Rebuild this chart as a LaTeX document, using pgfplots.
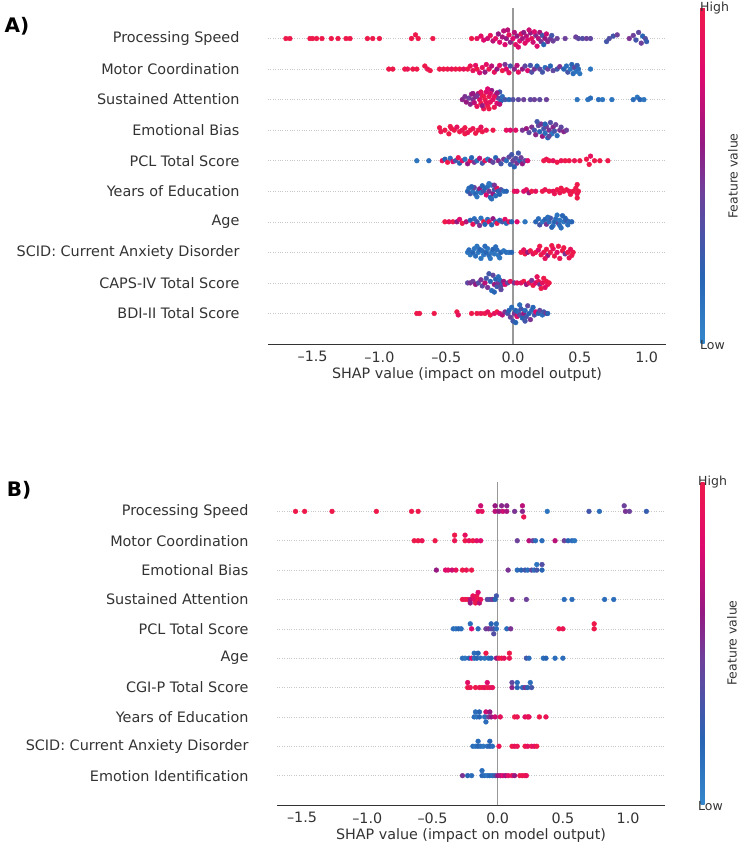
\documentclass[border=0pt]{standalone}
\usepackage{fontspec}
\setmainfont{DejaVu Sans}
\usepackage{pgfplots}
\pgfplotsset{compat=1.18}
\definecolor{lab}{RGB}{51,51,51}
\definecolor{zline}{RGB}{153,153,153}
\definecolor{gridc}{RGB}{200,200,200}
\pgfplotsset{
  shapaxis/.style={
    scale only axis, anchor=south west,
    ymin=-1, ymax=10,
    axis x line*=bottom, axis y line*=left,
    y axis line style={draw=none},
    x axis line style={draw=lab, line width=0.8pt},
    major tick length=0pt,
    xtick={-1.5,-1,-0.5,0,0.5,1},
    xticklabels={–1.5,–1.0,–0.5,0.0,0.5,1.0},
    ytick={0,...,9},
    ymajorgrids,
    grid style={gridc, line width=0.6pt, dash pattern=on 0.8pt off 1.6pt},
    tick label style={text=lab},
    xticklabel style={font=\fontsize{14.3}{16}\selectfont, yshift=-4pt},
    yticklabel style={font=\fontsize{14.4}{16}\selectfont, xshift=-25pt},
    xlabel={SHAP value (impact on model output)},
    xlabel style={font=\fontsize{14.3}{16}\selectfont, text=lab, at={(axis description cs:0.5,0)}, anchor=center, yshift=-31pt},
    colormap={shap}{rgb255(0pt)=(52,135,205); rgb255(20pt)=(40,100,180); rgb255(45pt)=(110,65,155); rgb255(60pt)=(150,25,130); rgb255(80pt)=(222,10,110); rgb255(100pt)=(238,25,75)},
    point meta min=0, point meta max=1,
    colorbar,
  },
  beeswarm/.style={scatter, only marks, mark=*, mark size=2.4pt, scatter src=explicit,
    scatter/use mapped color={draw=mapped color, fill=mapped color}},
}
\begin{document}
\begin{tikzpicture}
\useasboundingbox (0,0) rectangle (743pt,846pt);
% ================= Panel A =================
\begin{axis}[shapaxis, at={(268pt,502pt)}, width=398pt, height=336pt,
  xmin=-1.834, xmax=1.145,
  yticklabels={BDI-II Total Score, CAPS-IV Total Score, SCID: Current Anxiety Disorder, Age, Years of Education, PCL Total Score, Emotional Bias, Sustained Attention, Motor Coordination, Processing Speed},
  colorbar style={at={(parent axis.north east)}, anchor=north west, xshift=26pt,
    scale only axis, width=4pt, height=336pt, xtick=\empty, ytick=\empty, axis line style={draw=none}}]
\addplot[zline, line width=1.3pt, forget plot] coordinates {(0,-1) (0,10)};
% Processing Speed
\addplot[beeswarm] table[row sep=\\, x=x, y expr=\thisrow{d}+9, meta=c] {
x d c\\
-1.70 0 1\\ -1.67 0 1\\ -1.52 0 1\\ -1.50 0 1\\ -1.47 0 1\\ -1.43 0 1\\ -1.36 0 1\\ -1.31 0 1\\ -1.25 0 1\\ -1.22 0 1\\
-1.09 0 1\\ -1.05 0 1\\ -1.00 0 1\\ -0.76 0 1\\ -0.73 0.12 1\\ -0.71 0 1\\ -0.60 0 1\\ -0.31 0 1\\
-0.27 0 0.9\\ -0.24 0.08 0.85\\ -0.22 -0.05 0.8\\ -0.19 0 0.75\\ -0.17 0.1 0.9\\ -0.15 -0.08 0.7\\ -0.13 0 0.85\\ -0.11 0.15 0.6\\
-0.10 -0.12 0.8\\ -0.08 0.05 0.65\\ -0.07 0.25 0.7\\ -0.06 -0.2 0.8\\ -0.05 0 0.6\\ -0.03 0.12 0.9\\ -0.02 -0.12 0.55\\ 0.00 0 0.8\\
0.01 0.2 0.7\\ 0.02 -0.2 0.85\\ 0.03 0.08 0.6\\ 0.05 -0.08 0.8\\ 0.06 0.15 0.9\\ 0.07 0 0.65\\ 0.09 -0.15 0.85\\ 0.10 0.08 0.7\\
0.11 -0.05 0.8\\ 0.13 0.18 0.6\\ 0.14 0 0.9\\ 0.15 -0.12 0.75\\ 0.17 0.1 0.55\\ 0.18 -0.25 0.8\\ 0.19 0 0.7\\ 0.20 0.2 0.65\\
0.21 -0.1 0.5\\ 0.22 0.1 0.3\\ 0.23 -0.2 0.2\\ 0.24 0 0.6\\ 0.25 0.15 0.75\\ 0.26 -0.1 0.55\\ 0.28 0 0.5\\ 0.29 0.1 0.3\\
0.30 -0.08 0.45\\ 0.33 0 0.45\\ 0.39 0 0.45\\ 0.47 0.05 0.45\\ 0.49 0 0.4\\ 0.52 0 0.35\\ 0.55 0 0.45\\ 0.58 0 0.4\\
0.70 -0.1 0.3\\ 0.72 0 0.35\\ 0.75 0.08 0.3\\ 0.78 0.12 0.45\\ 0.87 0 0.5\\ 0.90 0.1 0.45\\ 0.92 -0.05 0.3\\ 0.94 0.2 0.4\\
0.96 -0.15 0.45\\ 0.97 0.08 0.2\\ 0.99 0 0.35\\ 1.00 -0.1 0.25\\
-0.04 0.28 0.7\\ 0.04 -0.28 0.8\\ 0.12 0.28 0.75\\ 0.16 0.22 0.8\\ 0.08 0.2 0.6\\
};
% Motor Coordination
\addplot[beeswarm] table[row sep=\\, x=x, y expr=\thisrow{d}+8, meta=c] {
x d c\\
-0.93 0 1\\ -0.90 0 1\\ -0.81 0 1\\ -0.79 0 0.95\\ -0.75 0 1\\ -0.72 0 1\\ -0.66 0.1 1\\ -0.64 0 0.95\\ -0.62 -0.05 1\\
-0.55 0 1\\ -0.52 0 1\\ -0.49 0 1\\ -0.46 0 0.95\\ -0.43 0 1\\ -0.40 0 1\\ -0.37 0 0.9\\ -0.34 0 1\\ -0.32 0.1 0.95\\
-0.30 -0.05 0.9\\ -0.28 0.12 0.85\\ -0.27 0 1\\ -0.25 -0.12 0.8\\ -0.23 0.05 0.9\\ -0.21 -0.1 0.6\\ -0.20 0.15 0.85\\
-0.18 0 0.95\\ -0.16 0.1 0.7\\ -0.14 -0.1 0.9\\ -0.12 0 0.6\\ -0.10 0.12 0.85\\ -0.08 -0.05 1\\ -0.06 0.15 0.5\\ -0.05 0 0.8\\
-0.03 -0.12 0.9\\ -0.02 0.1 0.3\\ 0.01 0 0.55\\ 0.03 0.12 0.7\\ 0.04 -0.1 0.9\\ 0.07 0 0.6\\ 0.09 0.1 0.4\\ 0.11 -0.05 0.8\\
0.13 0.12 0.3\\ 0.14 -0.1 0.35\\ 0.16 0 0.5\\ 0.18 0.1 0.2\\ 0.20 0 0.4\\ 0.22 -0.1 0.3\\ 0.24 0.05 0.15\\ 0.26 0 0.45\\
0.28 0.1 0.2\\ 0.30 -0.05 0.4\\ 0.33 0 0.3\\ 0.35 0.08 0.5\\ 0.38 0 0.2\\ 0.40 0.1 0.15\\ 0.41 -0.1 0.3\\ 0.43 0 0.1\\
0.44 0.15 0.2\\ 0.45 -0.15 0.15\\ 0.46 0.05 0.4\\ 0.47 -0.08 0.1\\ 0.48 0.12 0.25\\ 0.49 0 0.15\\ 0.50 -0.15 0.1\\ 0.58 0 0.1\\
};
% Sustained Attention
\addplot[beeswarm] table[row sep=\\, x=x, y expr=\thisrow{d}+7, meta=c] {
x d c\\
-0.38 0 0.55\\ -0.36 0.1 0.5\\ -0.35 -0.08 0.6\\ -0.33 0.05 0.45\\ -0.32 -0.15 0.55\\ -0.31 0.18 0.6\\ -0.30 0 0.5\\
-0.29 -0.1 0.7\\ -0.28 0.1 0.55\\ -0.27 -0.22 0.9\\ -0.26 0.2 0.65\\ -0.25 0 0.85\\ -0.24 -0.12 1\\ -0.23 0.12 0.9\\
-0.22 -0.3 0.95\\ -0.21 0 1\\ -0.20 0.25 0.8\\ -0.19 -0.2 1\\ -0.18 0.1 0.95\\ -0.17 -0.08 0.9\\ -0.16 0.3 0.6\\
-0.15 0 0.85\\ -0.14 -0.25 0.95\\ -0.13 0.15 0.7\\ -0.12 -0.12 0.8\\ -0.11 0.05 0.4\\ -0.10 0.25 0.3\\ -0.09 -0.05 0.2\\
-0.08 0.1 0.15\\ -0.06 0 0.3\\ -0.03 0 0.2\\ 0.00 0 0.35\\ 0.04 0 0.4\\ 0.08 0 0.45\\ 0.13 0 0.4\\ 0.16 0 0.45\\
0.20 0 0.4\\ 0.25 0 0.45\\ 0.48 0 0.1\\ 0.56 0 0.1\\ 0.58 0.05 0.15\\ 0.64 0 0.15\\ 0.67 0 0.1\\ 0.74 0 0.1\\
0.90 0 0.15\\ 0.93 0.08 0.1\\ 0.95 0 0.2\\ 0.98 0 0.1\\
-0.30 0.2 0.6\\ -0.27 0.12 0.5\\ -0.24 0.25 0.9\\ -0.22 0.12 1\\ -0.20 -0.1 0.9\\ -0.18 -0.3 1\\ -0.17 0.2 0.85\\
-0.14 0.1 0.9\\ -0.12 0.22 0.6\\ -0.10 -0.15 0.7\\ -0.19 0.35 0.8\\ -0.23 -0.2 0.6\\
};
% Emotional Bias
\addplot[beeswarm] table[row sep=\\, x=x, y expr=\thisrow{d}+6, meta=c] {
x d c\\
-0.55 0.08 1\\ -0.54 -0.05 0.95\\ -0.51 0 1\\ -0.48 -0.12 1\\ -0.46 0.05 0.95\\ -0.44 0 1\\ -0.42 0.1 0.9\\ -0.40 -0.05 1\\
-0.38 0 0.95\\ -0.36 0.08 1\\ -0.34 -0.08 0.9\\ -0.32 0 1\\ -0.30 0.05 0.95\\ -0.28 -0.1 1\\ -0.26 0 1\\ -0.24 0.1 0.9\\
-0.23 -0.05 1\\ -0.20 0 0.95\\ -0.15 0 1\\ -0.05 0 0.9\\ -0.02 0 0.8\\ 0.02 0 0.85\\ 0.07 0 0.5\\ 0.10 0.05 0.6\\
0.12 -0.08 0.4\\ 0.14 0.1 0.5\\ 0.16 0 0.3\\ 0.17 -0.15 0.55\\ 0.19 0.15 0.4\\ 0.20 -0.05 0.2\\ 0.21 0.2 0.5\\ 0.22 -0.2 0.6\\
0.23 0.05 0.3\\ 0.24 -0.1 0.15\\ 0.25 0.12 0.45\\ 0.26 -0.25 0.2\\ 0.27 0 0.5\\ 0.28 0.25 0.35\\ 0.29 -0.12 0.1\\ 0.30 0.1 0.55\\
0.31 -0.03 0.3\\ 0.32 0.18 0.45\\ 0.33 -0.18 0.15\\ 0.35 0 0.5\\ 0.36 0.1 0.4\\ 0.38 -0.05 0.55\\ 0.40 0 0.45\\
0.18 0.28 0.3\\ 0.24 0.2 0.2\\ 0.27 -0.2 0.4\\ -0.47 0.12 1\\ -0.36 -0.12 1\\
};
% PCL Total Score
\addplot[beeswarm] table[row sep=\\, x=x, y expr=\thisrow{d}+5, meta=c] {
x d c\\
-0.72 0 0.1\\ -0.63 0 0.15\\ -0.53 0 0.9\\ -0.51 0.05 0.2\\ -0.49 -0.05 1\\ -0.47 0.08 0.15\\ -0.45 -0.03 0.8\\ -0.43 0 0.3\\
-0.41 0.1 0.95\\ -0.40 -0.08 0.2\\ -0.38 0 0.85\\ -0.36 0.05 0.1\\ -0.34 -0.1 0.6\\ -0.32 0 0.9\\ -0.31 0.1 0.2\\ -0.29 -0.05 0.5\\
-0.27 0 0.15\\ -0.25 0.08 0.7\\ -0.23 -0.08 0.3\\ -0.21 0 0.9\\ -0.19 0.05 0.1\\ -0.17 0 0.6\\ -0.15 -0.05 0.4\\ -0.13 0.1 0.2\\
-0.11 0 0.55\\ -0.09 -0.1 0.3\\ -0.07 0.05 0.5\\ -0.05 0 0.15\\ -0.03 0.12 0.4\\ -0.02 -0.12 0.25\\ -0.01 0.2 0.3\\ 0.00 0 0.45\\
0.01 -0.2 0.2\\ 0.02 0.08 0.35\\ 0.03 -0.08 0.5\\ 0.04 0.25 0.3\\ 0.05 0 0.2\\ 0.06 0.1 0.45\\ 0.07 -0.1 0.6\\ 0.09 0 0.4\\
0.11 0 0.8\\ 0.23 0 1\\ 0.25 0.05 0.95\\ 0.27 0 1\\ 0.30 0 0.9\\ 0.33 -0.05 1\\ 0.36 0 0.95\\ 0.39 0 1\\ 0.42 0 1\\
0.46 0 0.95\\ 0.50 0 1\\ 0.55 0.05 1\\ 0.57 -0.12 1\\ 0.58 0.15 0.9\\ 0.61 0 1\\ 0.65 0 1\\ 0.71 0 1\\
};
% Years of Education
\addplot[beeswarm] table[row sep=\\, x=x, y expr=\thisrow{d}+4, meta=c] {
x d c\\
-0.34 0 0.2\\ -0.33 0.1 0.15\\ -0.32 -0.08 0.3\\ -0.30 0 0.1\\ -0.29 0.12 0.4\\ -0.28 -0.1 0.2\\ -0.26 0 0.15\\ -0.25 0.08 0.6\\
-0.24 -0.05 0.1\\ -0.22 0 0.3\\ -0.21 0.1 0.2\\ -0.20 -0.12 0.8\\ -0.19 0.15 0.15\\ -0.18 0 0.5\\ -0.17 -0.2 0.2\\ -0.16 0.2 0.1\\
-0.15 -0.08 0.6\\ -0.14 0.05 0.3\\ -0.13 -0.15 0.15\\ -0.12 0.1 0.9\\ -0.11 0 0.2\\ -0.09 0.05 0.35\\ -0.07 0 0.15\\ -0.05 0 0.2\\
0.01 0 0.9\\ 0.03 0 0.85\\ 0.08 0 0.8\\ 0.10 0.05 0.9\\ 0.12 -0.05 0.6\\ 0.14 0 1\\ 0.17 0 0.9\\ 0.22 0 1\\ 0.24 0.05 0.95\\
0.27 0 1\\ 0.30 0 0.9\\ 0.33 0.05 1\\ 0.35 -0.05 0.95\\ 0.38 0 1\\ 0.40 0.05 1\\ 0.42 0 0.95\\ 0.45 0 1\\ 0.47 0.1 1\\
0.48 -0.08 0.95\\ 0.48 0.22 1\\ 0.48 -0.22 1\\ 0.49 0 1\\
-0.31 0.15 0.2\\ -0.27 -0.18 0.1\\ -0.23 0.18 0.2\\ -0.18 0.25 0.1\\ -0.16 -0.25 0.15\\ -0.14 0.2 0.5\\ -0.10 -0.1 0.2\\
0.36 0.1 1\\ 0.43 -0.1 1\\ 0.31 -0.08 0.95\\
};
% Age
\addplot[beeswarm] table[row sep=\\, x=x, y expr=\thisrow{d}+3, meta=c] {
x d c\\
-0.51 0 1\\ -0.48 0 0.9\\ -0.45 0 1\\ -0.42 0 0.6\\ -0.40 0.08 0.8\\ -0.38 -0.05 1\\ -0.35 0 0.7\\ -0.32 0.05 0.2\\
-0.30 -0.08 0.9\\ -0.29 0.1 0.15\\ -0.27 0 0.3\\ -0.25 -0.12 0.5\\ -0.24 0.12 0.1\\ -0.22 0 1\\ -0.21 -0.08 0.2\\ -0.19 0.08 0.15\\
-0.18 0 0.9\\ -0.16 -0.1 0.2\\ -0.15 0.1 0.6\\ -0.13 0 0.15\\ -0.12 -0.05 0.95\\ -0.10 0.05 0.2\\ -0.08 0 0.3\\ -0.06 0.08 0.85\\
-0.05 -0.05 0.15\\ -0.03 0 0.9\\ -0.01 0 0.2\\ 0.03 0 0.8\\ 0.09 0 0.1\\ 0.17 0 0.2\\ 0.19 0.1 0.15\\ 0.20 -0.1 0.3\\
0.22 0 0.1\\ 0.24 0.08 0.2\\ 0.25 -0.08 0.5\\ 0.27 0 0.15\\ 0.28 0.12 0.3\\ 0.30 -0.12 0.1\\ 0.31 0 0.2\\ 0.32 0.1 0.15\\
0.34 -0.05 0.4\\ 0.35 0.05 0.1\\ 0.36 -0.2 0.15\\ 0.37 0.2 0.2\\ 0.38 0 0.1\\ 0.40 0.05 0.3\\ 0.42 0 0.15\\ 0.44 0 0.2\\
0.26 0.15 0.15\\ 0.29 -0.18 0.2\\ 0.33 0.22 0.1\\ 0.35 -0.12 0.15\\ 0.39 0.12 0.2\\ 0.41 -0.1 0.15\\
};
% SCID: Current Anxiety Disorder
\addplot[beeswarm] table[row sep=\\, x=x, y expr=\thisrow{d}+2, meta=c] {
x d c\\
-0.34 0 0.1\\ -0.33 0.08 0.15\\ -0.32 -0.08 0.1\\ -0.30 0 0.2\\ -0.29 0.12 0.1\\ -0.28 -0.12 0.15\\ -0.26 0 0.1\\ -0.25 0.1 0.2\\
-0.24 -0.2 0.1\\ -0.23 0.05 0.15\\ -0.22 -0.08 0.1\\ -0.20 0 0.2\\ -0.19 0.12 0.1\\ -0.18 -0.1 0.15\\ -0.16 0 0.1\\ -0.15 0.1 0.2\\
-0.14 -0.05 0.1\\ -0.12 0.08 0.15\\ -0.11 -0.1 0.1\\ -0.09 0 0.2\\ -0.07 0.05 0.1\\ -0.05 0 0.15\\ -0.03 0 0.1\\ -0.01 0 0.2\\
0.06 0 1\\ 0.08 0.08 0.9\\ 0.09 -0.05 1\\ 0.11 0 0.6\\ 0.13 0.05 1\\ 0.15 -0.05 0.9\\ 0.17 0 1\\ 0.19 0.08 0.8\\
0.21 -0.08 1\\ 0.23 0 0.95\\ 0.25 0.1 1\\ 0.26 -0.1 0.6\\ 0.28 0 1\\ 0.30 0.12 0.9\\ 0.31 -0.12 1\\ 0.33 0 0.85\\
0.34 0.2 1\\ 0.35 -0.2 0.95\\ 0.37 0.05 1\\ 0.39 -0.05 0.5\\ 0.41 0 1\\ 0.43 0.1 0.9\\ 0.44 -0.1 1\\ 0.45 0 1\\
-0.27 0.2 0.1\\ -0.21 0.2 0.15\\ -0.17 -0.2 0.1\\ -0.13 0.18 0.15\\ -0.10 -0.18 0.1\\ 0.20 0.2 1\\ 0.24 -0.2 0.9\\
0.29 0.22 1\\ 0.38 0.15 1\\ 0.42 -0.18 0.95\\
};
% CAPS-IV Total Score
\addplot[beeswarm] table[row sep=\\, x=x, y expr=\thisrow{d}+1, meta=c] {
x d c\\
-0.34 0 0.4\\ -0.32 0 0.5\\ -0.30 0.05 0.45\\ -0.28 -0.05 0.6\\ -0.26 0 0.35\\ -0.24 0.1 0.5\\ -0.23 -0.1 0.4\\ -0.21 0 0.7\\
-0.20 0.15 0.3\\ -0.19 -0.15 0.5\\ -0.17 0.05 0.2\\ -0.16 -0.25 0.15\\ -0.15 0.25 0.4\\ -0.14 -0.05 0.6\\ -0.13 0.12 0.2\\
-0.12 -0.12 0.3\\ -0.11 0 0.5\\ -0.10 0.1 0.15\\ -0.09 -0.1 0.35\\ -0.08 0 0.25\\ -0.07 0.05 0.6\\ -0.06 -0.05 0.8\\ -0.04 0 0.4\\
-0.02 0.05 0.9\\ 0.01 0 0.5\\ 0.03 0 0.9\\ 0.06 0 0.85\\ 0.08 0.05 1\\ 0.10 -0.05 0.6\\ 0.12 0 0.9\\ 0.14 0.08 0.5\\
0.15 -0.08 1\\ 0.17 0 0.8\\ 0.19 0.05 0.95\\ 0.20 -0.05 0.5\\ 0.22 0 0.9\\ 0.23 0.15 1\\ 0.24 -0.15 0.85\\ 0.25 0.05 1\\
0.26 -0.05 0.9\\ 0.27 0 1\\
-0.18 0.3 0.3\\ -0.14 -0.3 0.2\\ -0.11 0.2 0.15\\ -0.09 -0.22 0.4\\ 0.18 0.2 0.9\\ 0.21 -0.18 1\\
};
% BDI-II Total Score
\addplot[beeswarm] table[row sep=\\, x=x, y expr=\thisrow{d}+0, meta=c] {
x d c\\
-0.72 0 1\\ -0.70 0 1\\ -0.59 0 1\\ -0.42 0.05 1\\ -0.41 -0.05 0.9\\ -0.31 0 1\\ -0.27 0 1\\ -0.24 0 0.95\\ -0.21 0 1\\
-0.19 0.05 0.9\\ -0.17 -0.05 1\\ -0.14 0 0.85\\ -0.12 0.05 1\\ -0.10 0 0.8\\ -0.08 -0.05 0.7\\ -0.06 0.05 0.5\\ -0.04 0 0.3\\
-0.03 0.1 0.2\\ -0.02 -0.12 0.4\\ -0.01 0.2 0.15\\ 0.00 -0.25 0.3\\ 0.01 0 0.5\\ 0.02 0.1 0.2\\ 0.03 -0.1 0.8\\ 0.04 0.05 0.15\\
0.05 -0.05 0.4\\ 0.06 0.15 0.3\\ 0.07 -0.15 0.2\\ 0.08 0 0.6\\ 0.09 0.1 0.15\\ 0.10 -0.1 0.3\\ 0.11 0.25 0.4\\ 0.12 0 0.2\\
0.13 -0.2 0.5\\ 0.14 0.1 0.15\\ 0.16 -0.05 0.3\\ 0.17 0.05 0.8\\ 0.19 0 0.2\\ 0.20 0.1 0.4\\ 0.22 -0.05 0.15\\ 0.23 0.05 0.3\\
0.25 0 0.5\\ 0.26 0 0.2\\
0.02 -0.3 0.2\\ 0.05 0.28 0.15\\ 0.09 -0.25 0.3\\ 0.15 0.2 0.2\\
};
\end{axis}
% ================= Panel B =================
\begin{axis}[shapaxis, at={(277pt,41pt)}, width=388pt, height=323pt,
  xmin=-1.692, xmax=1.283,
  yticklabels={Emotion Identification, SCID: Current Anxiety Disorder, Years of Education, CGI-P Total Score, Age, PCL Total Score, Sustained Attention, Emotional Bias, Motor Coordination, Processing Speed},
  colorbar style={at={(parent axis.north east)}, anchor=north west, xshift=27pt,
    scale only axis, width=4pt, height=323pt, xtick=\empty, ytick=\empty, axis line style={draw=none}}]
\addplot[zline, line width=1.3pt, forget plot] coordinates {(0,-1) (0,10)};
% Processing Speed
\addplot[beeswarm] table[row sep=\\, x=x, y expr=\thisrow{d}+9, meta=c] {
x d c\\
-1.55 0 1\\ -1.48 0 1\\ -1.27 0 1\\ -0.93 0 1\\ -0.66 0 1\\ -0.61 0 1\\ -0.15 0 0.85\\ -0.12 0 0.9\\ -0.13 0.19 0.75\\
-0.02 0.19 0.6\\ 0.03 0.19 0.55\\ 0.07 0.19 0.55\\ -0.02 0 0.7\\ 0.01 0 0.6\\ 0.04 0 0.75\\ 0.07 0 0.65\\ 0.13 0 0.5\\
0.19 0.19 0.7\\ 0.19 0 0.55\\ 0.20 -0.19 0.95\\ 0.38 0 0.1\\ 0.70 0 0.3\\ 0.78 0 0.15\\ 0.97 0.19 0.45\\ 0.98 0 0.5\\
1.01 0 0.45\\ 1.14 0 0.25\\
};
% Motor Coordination
\addplot[beeswarm] table[row sep=\\, x=x, y expr=\thisrow{d}+8, meta=c] {
x d c\\
-0.64 0 1\\ -0.61 0 1\\ -0.58 0 0.95\\ -0.48 0 1\\ -0.33 0.19 1\\ -0.33 0 0.95\\ -0.25 0.19 0.9\\ -0.25 0 1\\ -0.22 0 0.9\\
-0.19 0 1\\ -0.16 0 0.85\\ -0.13 0 0.8\\ 0.15 0 0.45\\ 0.24 0 0.7\\ 0.27 0 0.45\\ 0.29 0 0.15\\ 0.34 0 0.15\\ 0.44 0 0.7\\
0.51 0 0.45\\ 0.54 0 0.2\\ 0.57 0 0.15\\ 0.59 0 0.1\\
};
% Emotional Bias
\addplot[beeswarm] table[row sep=\\, x=x, y expr=\thisrow{d}+7, meta=c] {
x d c\\
-0.47 0 0.6\\ -0.40 0 0.8\\ -0.38 0 0.85\\ -0.35 0 0.75\\ -0.32 0 0.9\\ -0.27 0 1\\ -0.24 0 0.95\\ -0.20 0 1\\ 0.08 0 0.5\\
0.15 0 0.15\\ 0.18 0 0.2\\ 0.21 0 0.3\\ 0.23 0 0.15\\ 0.26 0 0.4\\ 0.28 0 0.15\\ 0.30 0 0.3\\ 0.30 0.19 0.1\\ 0.34 0 0.2\\
0.34 0.19 0.35\\
};
% Sustained Attention
\addplot[beeswarm] table[row sep=\\, x=x, y expr=\thisrow{d}+6, meta=c] {
x d c\\
-0.27 0 1\\ -0.25 0 0.95\\ -0.23 0 1\\ -0.21 0 0.7\\ -0.21 -0.12 0.6\\ -0.19 0.12 0.9\\ -0.18 0 0.85\\ -0.17 -0.12 1\\
-0.16 0.12 0.95\\ -0.15 0.24 0.8\\ -0.15 0 1\\ -0.14 -0.12 0.7\\ -0.13 0 0.9\\ -0.08 0 0.4\\ -0.06 0 0.35\\ -0.04 0 0.5\\
-0.01 0.12 0.3\\ -0.02 0 0.2\\ 0.11 0 0.5\\ 0.22 0 0.45\\ 0.51 0 0.15\\ 0.57 0 0.15\\ 0.82 0 0.15\\ 0.89 0 0.15\\
};
% PCL Total Score
\addplot[beeswarm] table[row sep=\\, x=x, y expr=\thisrow{d}+5, meta=c] {
x d c\\
-0.34 0 0.15\\ -0.32 0 0.1\\ -0.30 0 0.2\\ -0.28 0 0.15\\ -0.21 0.17 0.15\\ -0.20 0 0.8\\ -0.15 0 0.15\\ -0.09 0 0.45\\
-0.07 0 0.5\\ -0.05 0 0.4\\ -0.03 0 0.35\\ -0.01 0 0.15\\ -0.05 0.17 0.2\\ -0.01 0.17 0.15\\ -0.03 -0.17 0.35\\ 0.07 0 0.15\\
0.10 0 0.5\\ 0.47 0 1\\ 0.50 0 0.95\\ 0.74 0 1\\ 0.74 0.17 1\\
};
% Age
\addplot[beeswarm] table[row sep=\\, x=x, y expr=\thisrow{d}+4, meta=c] {
x d c\\
-0.27 0 0.15\\ -0.25 0 0.1\\ -0.22 0 0.2\\ -0.20 0 0.8\\ -0.18 0 0.15\\ -0.16 0 0.2\\ -0.18 0.17 0.15\\ -0.15 0.17 0.2\\
-0.13 0 0.15\\ -0.10 0 0.1\\ -0.09 0.17 1\\ -0.07 0 0.15\\ -0.05 0 0.2\\ -0.01 0 0.6\\ 0.01 0 0.95\\ 0.03 0 1\\ 0.05 0 0.9\\
0.09 0.17 1\\ 0.09 0 0.95\\ 0.22 0 0.3\\ 0.24 0 0.15\\ 0.35 0 0.15\\ 0.37 0 0.2\\ 0.44 0 0.15\\ 0.50 0 0.15\\
};
% CGI-P Total Score
\addplot[beeswarm] table[row sep=\\, x=x, y expr=\thisrow{d}+3, meta=c] {
x d c\\
-0.23 0.17 0.85\\ -0.23 0 1\\ -0.21 0 0.95\\ -0.17 0 1\\ -0.14 0 0.95\\ -0.12 0 1\\ -0.10 0 0.9\\ -0.08 0.17 0.8\\
-0.08 0 1\\ -0.06 0 0.95\\ -0.04 0 0.9\\ 0.11 0.17 0.4\\ 0.11 0 0.55\\ 0.15 0.17 0.15\\ 0.15 0 0.2\\ 0.19 0 0.15\\
0.21 0 0.5\\ 0.23 0 0.2\\ 0.25 0.17 0.15\\ 0.26 0 0.3\\
};
% Years of Education
\addplot[beeswarm] table[row sep=\\, x=x, y expr=\thisrow{d}+2, meta=c] {
x d c\\
-0.18 0 0.15\\ -0.16 0 0.1\\ -0.14 0 0.2\\ -0.17 0.17 0.15\\ -0.14 0.17 0.2\\ -0.09 0.17 0.75\\ -0.06 0.17 0.6\\
-0.10 0 0.15\\ -0.09 -0.17 0.15\\ -0.07 0 0.45\\ -0.05 0 0.6\\ -0.02 0 0.75\\ 0.02 0 0.9\\ 0.13 0 1\\ 0.15 0 0.95\\
0.21 0 0.85\\ 0.23 0 1\\ 0.24 0 0.9\\ 0.32 0 1\\ 0.37 0 0.95\\
};
% SCID: Current Anxiety Disorder
\addplot[beeswarm] table[row sep=\\, x=x, y expr=\thisrow{d}+1, meta=c] {
x d c\\
-0.19 0 0.15\\ -0.17 0 0.1\\ -0.15 0 0.2\\ -0.13 0 0.15\\ -0.11 0 0.1\\ -0.15 0.17 0.15\\ -0.06 0.17 0.2\\ -0.08 0 0.15\\
-0.06 0 0.2\\ -0.04 0 0.15\\ 0.01 0 0.95\\ 0.11 0 1\\ 0.13 0 0.9\\ 0.15 0 0.95\\ 0.21 0 1\\ 0.23 0 0.9\\ 0.26 0 0.95\\
0.28 0 0.85\\ 0.30 0 1\\
};
% Emotion Identification
\addplot[beeswarm] table[row sep=\\, x=x, y expr=\thisrow{d}+0, meta=c] {
x d c\\
-0.27 0 0.5\\ -0.23 0 0.2\\ -0.20 0 0.15\\ -0.12 0.17 0.15\\ -0.12 0 0.2\\ -0.10 0 0.15\\ -0.08 0 0.1\\ -0.06 0 0.2\\
-0.04 0 0.15\\ -0.02 0 0.3\\ 0.00 0 0.6\\ 0.02 0 0.7\\ 0.04 0 0.8\\ 0.06 0 0.65\\ 0.08 0 0.85\\ 0.11 0 0.9\\ 0.13 0 0.6\\
0.17 0 1\\ 0.19 0 0.95\\ 0.21 0 1\\ 0.22 0 0.9\\
};
\end{axis}
% ================= labels =================
\node[font=\fontsize{20}{22}\selectfont\bfseries] at (17pt,820pt) {A)};
\node[font=\fontsize{20}{22}\selectfont\bfseries] at (19pt,356pt) {B)};
\begin{scope}[every node/.style={font=\fontsize{12.5}{14}\selectfont, text=lab, inner sep=0pt}]
\node[anchor=west] at (700pt,838pt) {High};
\node[anchor=west] at (700pt,501pt) {Low};
\node[rotate=90] at (733pt,670pt) {Feature value};
\node[anchor=west] at (698pt,364pt) {High};
\node[anchor=west] at (698pt,40pt) {Low};
\node[rotate=90] at (732pt,203pt) {Feature value};
\end{scope}
\end{tikzpicture}
\end{document}
